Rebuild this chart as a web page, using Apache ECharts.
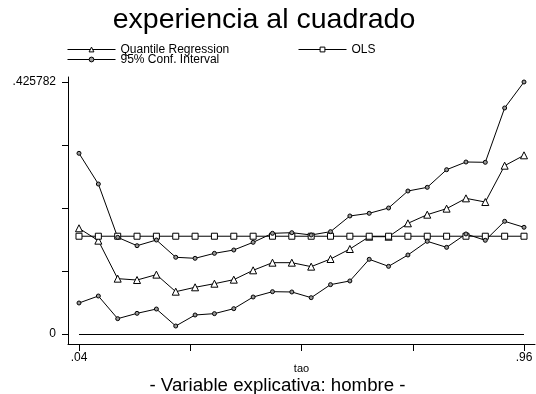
<!DOCTYPE html>
<html>
<head>
<meta charset="utf-8">
<script src="https://cdn.jsdelivr.net/npm/echarts@6/dist/echarts.min.js"></script>
<style>html,body{margin:0;padding:0;background:#fff;}#c{width:536px;height:394px;}</style>
</head>
<body>
<div id="c"></div>
<script>
const taus = [0.04,0.08,0.12,0.16,0.20,0.24,0.28,0.32,0.36,0.40,0.44,0.48,0.52,0.56,0.60,0.64,0.68,0.72,0.76,0.80,0.84,0.88,0.92,0.96];
const quantileReg = [0.1786,0.1577,0.0935,0.0912,0.1003,0.0715,0.0789,0.0850,0.0918,0.1076,0.1205,0.1205,0.1138,0.1267,0.1436,0.1644,0.1644,0.1870,0.2016,0.2118,0.2292,0.2230,0.2844,0.3019];
const ciUpper = [0.3053,0.2534,0.1633,0.1492,0.1588,0.1296,0.1279,0.1363,0.1419,0.1549,0.1701,0.1712,0.1673,0.1729,0.1994,0.2039,0.2129,0.2416,0.2478,0.2776,0.2906,0.2901,0.3819,0.425782];
const ciLower = [0.0524,0.0642,0.0259,0.0349,0.0422,0.0135,0.0321,0.0344,0.0428,0.0625,0.0715,0.0710,0.0614,0.0834,0.0896,0.1262,0.1143,0.1335,0.1566,0.1464,0.1690,0.1583,0.1904,0.1803];
const ols = [0.1652,0.1652,0.1652,0.1652,0.1652,0.1652,0.1652,0.1652,0.1652,0.1652,0.1652,0.1652,0.1652,0.1652,0.1652,0.1652,0.1652,0.1652,0.1652,0.1652,0.1652,0.1652,0.1652,0.1652];
const xTickValues = [0.04,0.27,0.50,0.73,0.96];
const xLabelValues = [0.04,0.96];
const xLabelTexts = ['.04','.96'];
const yTickValues = [0,0.1064455,0.212891,0.3193365,0.425782];
const yLabelValues = [0,0.425782];
const yLabelTexts = ['0','.425782'];

const FONT = 'Liberation Sans, Arial, Helvetica, sans-serif';
const pair = (ys) => taus.map((t,i) => [t, ys[i]]);
function mkSeries(name, ys, symbol, size, fill) {
  return {type:'line', name:name, data:pair(ys), symbol:symbol, symbolSize:size, symbolKeepAspect:true,
    lineStyle:{color:'#000', width:1},
    itemStyle:{color:fill, borderColor:'#000', borderWidth:1},
    emphasis:{disabled:true}, z:3};
}
function mkLegend(name, left, top, fill) {
  return {data:[{name:name, itemStyle:{color:fill, borderColor:'#000', borderWidth:1}, lineStyle:{color:'#000', width:1}}],
    left:left, top:top, padding:0, itemWidth:48, itemHeight:6, itemGap:0, selectedMode:false,
    itemStyle:{color:fill, borderColor:'#000', borderWidth:1},
    lineStyle:{color:'#000', width:1},
    textStyle:{fontFamily:FONT, fontSize:12, color:'#000', padding:[0,0,6,0]}};
}

const chart = echarts.init(document.getElementById('c'), null, {renderer:'canvas'});
const olsSeries = mkSeries('OLS', ols, 'rect', 6, '#fff');
olsSeries.markLine = {silent:true, symbol:'none', label:{show:false}, lineStyle:{color:'#000', width:1, type:'solid'},
  data:[[{coord:[taus[0],0]},{coord:[taus[taus.length-1],0]}]]};
chart.setOption({
  animation:false,
  backgroundColor:'#fff',
  textStyle:{fontFamily:FONT},
  title:[
    {text:'experiencia al cuadrado', left:264, top:6, padding:0, textAlign:'center',
     textStyle:{fontFamily:FONT, fontSize:28.5, fontWeight:'normal', color:'#000'}},
    {text:'- Variable explicativa: hombre -', left:277.5, top:376, padding:0, textAlign:'center',
     textStyle:{fontFamily:FONT, fontSize:18.7, fontWeight:'normal', color:'#000'}}
  ],
  legend:[
    mkLegend('Quantile Regression', 67, 43.5, '#fff'),
    mkLegend('OLS', 298, 43.5, '#fff'),
    mkLegend('95% Conf. Interval', 67, 53.5, '#999')
  ],
  grid:{left:68, right:1, top:77, bottom:50, outerBoundsMode:'none', containLabel:false},
  xAxis:{
    type:'value', min:0.01726, max:0.98274,
    name:'tao', nameLocation:'middle', nameGap:19, nameMoveOverlap:false,
    nameTextStyle:{fontFamily:FONT, fontSize:11, color:'#000', verticalAlign:'top'},
    axisLine:{show:true, onZero:false, lineStyle:{color:'#000', width:1}},
    axisTick:{show:true, length:7, customValues:xTickValues, lineStyle:{color:'#000', width:1}},
    axisLabel:{show:true, margin:8, customValues:xLabelValues, fontFamily:FONT, fontSize:12, color:'#000',
      formatter:(v)=>{const i = xLabelValues.findIndex(x=>Math.abs(x-v)<1e-6); return i>=0?xLabelTexts[i]:'';}},
    splitLine:{show:false}
  },
  yAxis:{
    type:'value', min:-0.0169, max:0.43423,
    axisLine:{show:true, onZero:false, lineStyle:{color:'#000', width:1}},
    axisTick:{show:true, length:6, customValues:yTickValues, lineStyle:{color:'#000', width:1}},
    axisLabel:{show:true, margin:12, customValues:yLabelValues, fontFamily:FONT, fontSize:12, color:'#000',
      formatter:(v)=>{const i = yLabelValues.findIndex(x=>Math.abs(x-v)<1e-6); return i>=0?yLabelTexts[i]:'';}},
    splitLine:{show:false}
  },
  series:[
    mkSeries('Quantile Regression', quantileReg, 'triangle', 7, '#fff'),
    olsSeries,
    mkSeries('95% Conf. Interval', ciUpper, 'circle', 4, '#999'),
    mkSeries('95% Conf. Interval', ciLower, 'circle', 4, '#999')
  ]
});
</script>
</body>
</html>
